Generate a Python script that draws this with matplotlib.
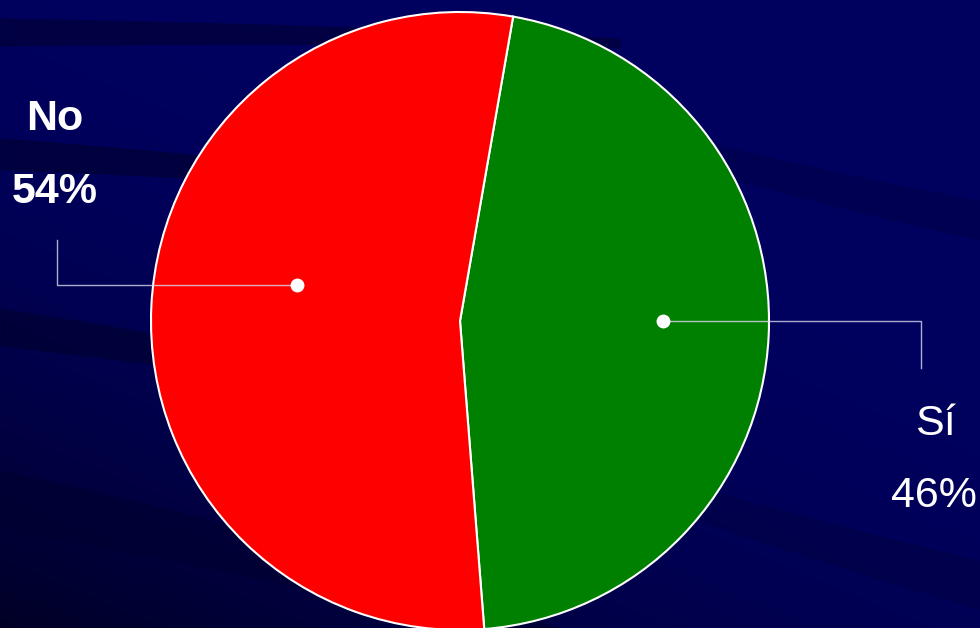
import numpy as np
import matplotlib
matplotlib.use("Agg")
import matplotlib.pyplot as plt

# Data
labels = ["Sí", "No"]
values = [46, 54]
colors = ["#008000", "#ff0000"]
pct_labels = ["46%", "54%"]

W, H = 980, 628
fig = plt.figure(figsize=(W / 100, H / 100), dpi=100)
fig.patch.set_facecolor("#00005e")

# background with subtle dark streaks
bg = fig.add_axes([0, 0, 1, 1])
bg.set_xlim(0, W)
bg.set_ylim(H, 0)
bg.axis("off")
yy, xx = np.mgrid[0:H, 0:W]
base = np.zeros((H, W, 3))
d = np.clip(1 - (xx / W) * 0.6 - (1 - yy / H) * 0.9, 0, 1)
base[..., 2] = 0.37 - 0.22 * d**2
bg.imshow(base, extent=[0, W, H, 0], aspect="auto", zorder=0)

def band(x0, x1, ytop0, ytop1, th0, th1, curv, alpha):
    x = np.linspace(x0, x1, 100)
    t = (x - x0) / (x1 - x0)
    yc = ytop0 + (ytop1 - ytop0) * t + curv * t * (1 - t)
    th = th0 + (th1 - th0) * t
    bg.fill_between(x, yc, yc + th, color="#000030", alpha=alpha, lw=0, zorder=1)

band(0, 620, 18, 38, 28, 10, -10, 0.6)
band(0, 300, 138, 165, 32, 20, -5, 0.65)
band(0, 300, 308, 360, 38, 25, -5, 0.65)
band(0, 560, 470, 628, 60, 30, -40, 0.6)
band(700, 980, 140, 200, 30, 40, 10, 0.25)
band(640, 980, 470, 560, 30, 50, 10, 0.25)

ax = fig.add_axes([0, 0, 1, 1])
ax.set_facecolor("none")
cx, cy, r = 460, H - 321, 309
wedges, _ = ax.pie(values, colors=colors, startangle=80.1, counterclock=False,
                   center=(cx, cy), radius=r, frame=True,
                   wedgeprops=dict(edgecolor="white", linewidth=1.5))
ax.set_xlim(0, W)
ax.set_ylim(0, H)
ax.set_aspect("auto")
ax.axis("off")

lc = (0.85, 0.85, 0.95, 0.8)
ax.plot([297, 57, 57], [H - 285, H - 285, H - 240], color=lc, lw=1)
ax.plot([297], [H - 285], "o", color="white", ms=10, mec="none")
ax.plot([663, 921, 921], [H - 321, H - 321, H - 368], color=lc, lw=1)
ax.plot([663], [H - 321], "o", color="white", ms=10, mec="none")

fp = dict(family="Liberation Sans", color="white", fontsize=31,
          ha="center", va="center")
ax.text(55, H - 119, labels[1], fontweight="bold", **fp)
ax.text(55, H - 192, pct_labels[1], fontweight="bold", **fp)
ax.text(935, H - 424, labels[0], **fp)
ax.text(934, H - 496, pct_labels[0], **fp)

fig.savefig("out.png", dpi=100, facecolor=fig.get_facecolor())
